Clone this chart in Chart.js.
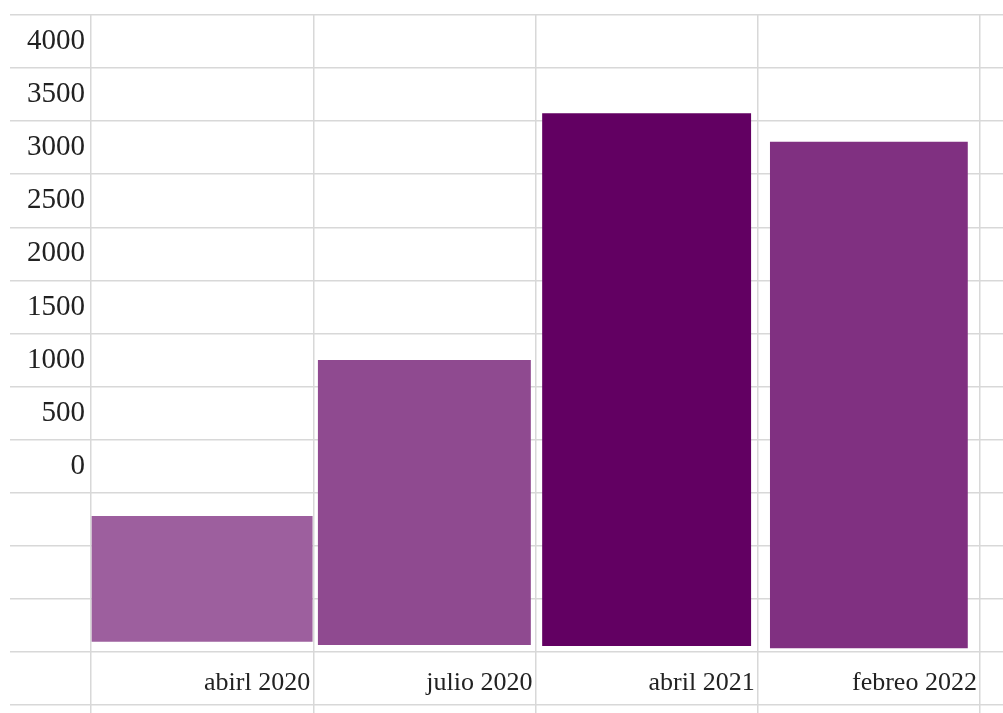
<!DOCTYPE html>
<html lang="es">
<head>
<meta charset="UTF-8">
<title>abril 2020 – febrero 2022</title>
<script src="https://cdn.jsdelivr.net/npm/chart.js@4"></script>
<style>
  html, body { margin: 0; padding: 0; background: #fff; }
  #wrap { position: relative; width: 1003px; height: 713px; }
</style>
</head>
<body>
<div id="wrap"><canvas id="chart"></canvas></div>
<script>
// periods and bar values (floating bars: bottom -> top)
const periods = ['abirl 2020', 'julio 2020', 'abril 2021', 'febreo 2022'];
const barTops = [-470, 1000, 3325, 3055];
const barBottoms = [-1655, -1685, -1695, -1715];
const barColors = ['#9d5f9e', '#8f4a90', '#620062', '#803081'];
const barShare = [0.994, 0.958, 0.94, 0.89];

// value axis: labelled rows, grid lines between them
const yLabels = [0, 500, 1000, 1500, 2000, 2500, 3000, 3500, 4000];
const yMin = -2250, yMax = 4250, yStep = 250;

const gridGray = '#d8d8d8';
const serifFamily = '"Liberation Serif", "Times New Roman", serif';

// one dataset per bar so each can keep its own width
const datasets = periods.map((p, i) => ({
    label: p,
    data: periods.map((_, j) => j === i ? [barBottoms[i], barTops[i]] : null),
    backgroundColor: barColors[i],
    borderWidth: 0,
    barPercentage: barShare[i],
    categoryPercentage: 1,
    grouped: false
}));

// grid only on the row borders (odd multiples of 250)
const rowLine = ctx => (ctx.tick && ctx.tick.value % 500 !== 0) ? gridGray : 'rgba(0,0,0,0)';

new Chart(document.getElementById('chart'), {
    type: 'bar',
    data: { labels: periods, datasets },
    options: {
        responsive: true,
        maintainAspectRatio: false,
        animation: false,
        layout: { padding: { left: 10, top: 15, right: 0, bottom: 0 } },
        plugins: { legend: { display: false }, tooltip: { enabled: false } },
        scales: {
            x: {
                type: 'category',
                offset: true,
                grid: { offset: true, color: gridGray, lineWidth: 1.5, drawTicks: true, tickLength: 8 },
                border: { display: false },
                ticks: {
                    mirror: true, align: 'end', labelOffset: 108, padding: 9,
                    color: '#222', font: { family: serifFamily, size: 26, lineHeight: 1 },
                    autoSkip: false, maxRotation: 0
                },
                afterFit: s => { s.height = 8; s.paddingLeft = 0; s.paddingRight = 0; }
            },
            y: {
                min: yMin, max: yMax,
                grid: { color: rowLine, lineWidth: 1.5, drawTicks: true, tickLength: 81 },
                border: { display: false },
                ticks: {
                    stepSize: yStep, maxTicksLimit: 100, autoSkip: false,
                    padding: -75, color: '#222', font: { family: serifFamily, size: 29, lineHeight: 1 },
                    callback: v => yLabels.includes(v) ? String(v) : ''
                },
                afterFit: s => { s.width = 81; s.paddingTop = 0; s.paddingBottom = 0; }
            },
            y2: {
                position: 'right',
                min: yMin, max: yMax,
                grid: { color: rowLine, lineWidth: 1.5, drawOnChartArea: false, drawTicks: true, tickLength: 23 },
                border: { display: false },
                ticks: { stepSize: yStep, maxTicksLimit: 100, autoSkip: false, display: false },
                afterFit: s => { s.width = 23; s.paddingTop = 0; s.paddingBottom = 0; }
            }
        }
    }
});
</script>
</body>
</html>
